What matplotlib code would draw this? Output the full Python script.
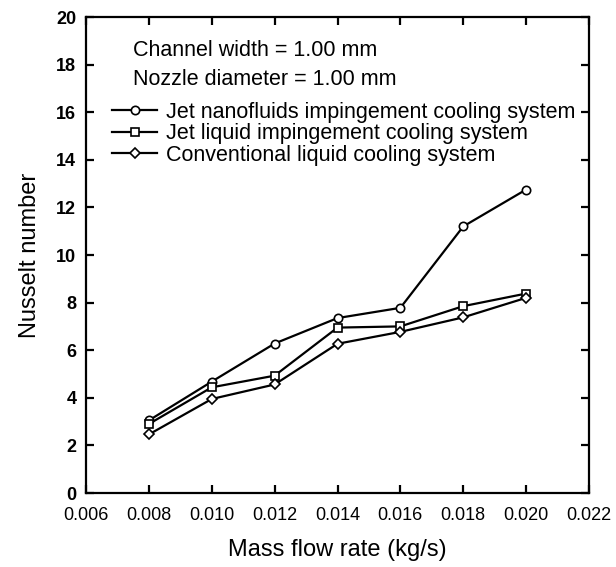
import matplotlib
matplotlib.use("Agg")
import matplotlib.pyplot as plt

plt.rcParams['font.family'] = ['Liberation Sans', 'DejaVu Sans']

mass_flow = [0.008, 0.010, 0.012, 0.014, 0.016, 0.018, 0.020]
nu_nanofluid_jet = [3.05, 4.68, 6.28, 7.35, 7.78, 11.2, 12.75]
nu_liquid_jet = [2.9, 4.44, 4.93, 6.95, 7.0, 7.85, 8.38]
nu_conventional = [2.46, 3.95, 4.56, 6.27, 6.77, 7.38, 8.2]

series_labels = ["Jet nanofluids impingement cooling system",
                 "Jet liquid impingement cooling system",
                 "Conventional liquid cooling system"]
x_ticks = [0.006, 0.008, 0.010, 0.012, 0.014, 0.016, 0.018, 0.020, 0.022]
y_ticks = [0, 2, 4, 6, 8, 10, 12, 14, 16, 18, 20]

fig = plt.figure(figsize=(6.16, 5.67), dpi=100)
ax = fig.add_axes([86/616, 1-493/567, 503/616, 476/567])

mk = dict(color='black', lw=1.6, markersize=6, markerfacecolor='white',
          markeredgecolor='black', markeredgewidth=1.2)
ax.plot(mass_flow, nu_nanofluid_jet, marker='o', label=series_labels[0], **mk)
ax.plot(mass_flow, nu_liquid_jet, marker='s', label=series_labels[1], **mk)
ax.plot(mass_flow, nu_conventional, marker='D', label=series_labels[2], **dict(mk, markersize=5.5))

ax.set_xlim(0.006, 0.022)
ax.set_ylim(0, 20)
ax.set_xticks(x_ticks)
ax.set_xticklabels([f"{v:.3f}" for v in x_ticks])
ax.set_yticks(y_ticks)
ax.tick_params(direction='in', top=True, right=True, length=6, width=1.6,
               labelsize=13)
ax.tick_params(axis='x', pad=10)
ax.tick_params(axis='y', pad=7)
for lab in ax.get_yticklabels():
    lab.set_fontweight('bold')
for s in ax.spines.values():
    s.set_linewidth(1.6)

ax.set_xlabel("Mass flow rate (kg/s)", fontsize=17, labelpad=11)
ax.set_ylabel("Nusselt number", fontsize=17, labelpad=11)

ax.text(0.094, 0.930, "Channel width = 1.00 mm", transform=ax.transAxes,
        fontsize=15.5, va='center', ha='left')
ax.text(0.094, 0.868, "Nozzle diameter = 1.00 mm", transform=ax.transAxes,
        fontsize=15.5, va='center', ha='left')

leg = ax.legend(loc='upper left', bbox_to_anchor=(0.052, 0.822), frameon=False,
                fontsize=15.5, handlelength=2.1, handletextpad=0.38,
                labelspacing=0.02, borderaxespad=0, borderpad=0)

fig.savefig("out.png", dpi=100)
